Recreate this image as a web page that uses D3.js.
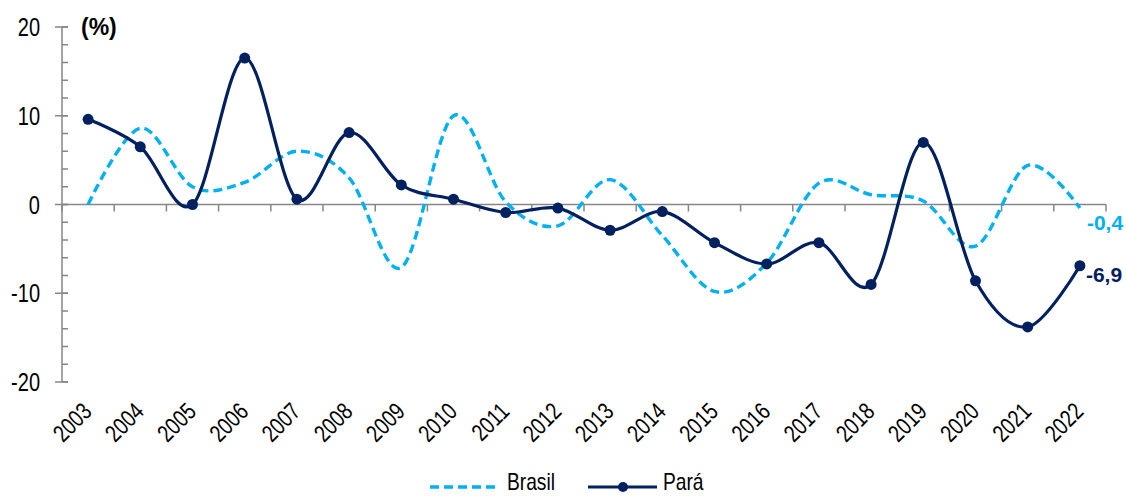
<!DOCTYPE html>
<html>
<head>
<meta charset="utf-8">
<script src="https://cdn.jsdelivr.net/npm/d3@7/dist/d3.min.js"></script>
<style>
  html, body { margin: 0; padding: 0; background: #fff; }
  svg { display: block; font-family: "Liberation Sans", Arial, sans-serif; }
</style>
</head>
<body>
<svg id="chart" width="1126" height="496"></svg>
<script>
// Annual real growth (%) — Brasil vs Pará
const years = ["2003","2004","2005","2006","2007","2008","2009","2010","2011","2012",
               "2013","2014","2015","2016","2017","2018","2019","2020","2021","2022"];
const brasil = [0.0, 8.6, 2.0, 2.5, 6.0, 3.0, -7.1, 10.0, 0.3, -2.4,
                2.8, -3.5, -9.8, -6.6, 2.4, 1.1, 0.4, -4.7, 4.4, -0.4];
const para   = [9.6, 6.5, 0.0, 16.5, 0.6, 8.1, 2.2, 0.6, -0.9, -0.4,
                -2.9, -0.8, -4.3, -6.7, -4.3, -9.0, 7.0, -8.6, -13.8, -6.9];
const yMajorTicks = [-20, -10, 0, 10, 20];
const yMinorTicks = d3.range(-20, 20.01, 2);
const seriesNames = ["Brasil", "Pará"];

const colBrasil = "#00b0f0";
const colPara = "#002060";
const colAxis = "#868686";
const condense = 0.8; // horizontal squeeze for the condensed label face

const svg = d3.select("#chart");

const x = d3.scaleBand().domain(years).range([62, 1106]);
const y = d3.scaleLinear().domain([-20, 20]).range([382, 27]);
const cx = d => x(d) + x.bandwidth() / 2;

// y axis: line, minor ticks inside, major ticks crossing
const yAxis = svg.append("g");
yAxis.append("line")
  .attr("x1", 62).attr("x2", 62).attr("y1", y(20)).attr("y2", y(-20))
  .attr("stroke", colAxis).attr("stroke-width", 1.5);
yAxis.selectAll("line.minor").data(yMinorTicks).join("line")
  .attr("class", "minor")
  .attr("x1", 62).attr("x2", 68).attr("y1", d => y(d)).attr("y2", d => y(d))
  .attr("stroke", colAxis).attr("stroke-width", 1.5);
yAxis.selectAll("line.major").data(yMajorTicks).join("line")
  .attr("class", "major")
  .attr("x1", 55).attr("x2", 68).attr("y1", d => y(d)).attr("y2", d => y(d))
  .attr("stroke", colAxis).attr("stroke-width", 1.5);
yAxis.selectAll("text").data(yMajorTicks).join("text")
  .attr("transform", d => `translate(40,${y(d) + 9}) scale(${condense},1)`)
  .attr("text-anchor", "end").attr("font-size", 25).attr("fill", "#000")
  .text(d => d);

svg.append("text")
  .attr("x", 81).attr("y", 35)
  .attr("font-size", 23).attr("font-weight", "bold").attr("fill", "#000")
  .text("(%)");

// x axis along zero, ticks at band boundaries
const xAxis = svg.append("g");
xAxis.append("line")
  .attr("x1", 62).attr("x2", 1106).attr("y1", y(0)).attr("y2", y(0))
  .attr("stroke", colAxis).attr("stroke-width", 1.5);
const tickXs = years.map(d => x(d)).concat([x.range()[1]]);
xAxis.selectAll("line.tick").data(tickXs).join("line")
  .attr("class", "tick")
  .attr("x1", d => d).attr("x2", d => d)
  .attr("y1", y(0)).attr("y2", y(0) + 7)
  .attr("stroke", colAxis).attr("stroke-width", 1.5);
xAxis.selectAll("text").data(years).join("text")
  .attr("text-anchor", "end").attr("font-size", 24).attr("fill", "#000")
  .attr("transform", d => `translate(${cx(d) + 5},${413}) rotate(-45) scale(${condense},1)`)
  .text(d => d);

// series lines
const line = d3.line()
  .x((d, i) => cx(years[i]))
  .y(d => y(d))
  .curve(d3.curveCardinal.tension(0));

svg.append("path").datum(brasil)
  .attr("d", line).attr("fill", "none")
  .attr("stroke", colBrasil).attr("stroke-width", 3.4)
  .attr("stroke-dasharray", "9,5");

svg.append("path").datum(para)
  .attr("d", line).attr("fill", "none")
  .attr("stroke", colPara).attr("stroke-width", 3.2);

svg.selectAll("circle.para").data(para).join("circle")
  .attr("class", "para")
  .attr("cx", (d, i) => cx(years[i])).attr("cy", d => y(d))
  .attr("r", 5.5).attr("fill", colPara);

// end-of-series value labels
const fmt = v => d3.format(".1f")(v).replace(".", ",").replace("−", "-");
const last = years.length - 1;
svg.append("text")
  .attr("x", cx(years[last]) + 7).attr("y", y(brasil[last]) + 22)
  .attr("font-size", 21).attr("font-weight", "bold").attr("fill", colBrasil)
  .text(fmt(brasil[last]));
svg.append("text")
  .attr("x", cx(years[last]) + 6).attr("y", y(para[last]) + 16)
  .attr("font-size", 21).attr("font-weight", "bold").attr("fill", colPara)
  .text(fmt(para[last]));

// legend
const lg = svg.append("g");
lg.append("line")
  .attr("x1", 430).attr("x2", 500).attr("y1", 487).attr("y2", 487)
  .attr("stroke", colBrasil).attr("stroke-width", 3.4).attr("stroke-dasharray", "9,5");
lg.append("text")
  .attr("transform", `translate(507,490) scale(${condense},1)`)
  .attr("font-size", 24).attr("fill", "#000").text(seriesNames[0]);
lg.append("line")
  .attr("x1", 588).attr("x2", 657).attr("y1", 487).attr("y2", 487)
  .attr("stroke", colPara).attr("stroke-width", 3.2);
lg.append("circle")
  .attr("cx", 623).attr("cy", 487).attr("r", 5).attr("fill", colPara);
lg.append("text")
  .attr("transform", `translate(663,490) scale(${condense},1)`)
  .attr("font-size", 24).attr("fill", "#000").text(seriesNames[1]);
</script>
</body>
</html>
